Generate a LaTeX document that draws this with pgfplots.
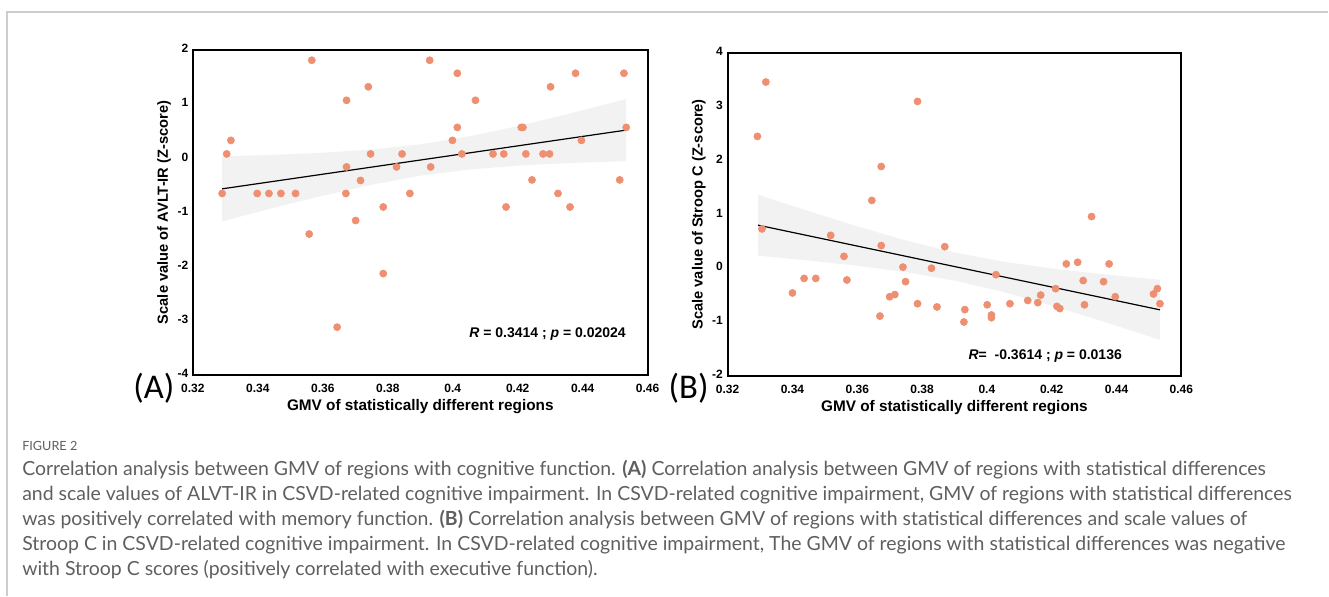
\documentclass[border=0pt]{standalone}
\usepackage{pgfplots}
\pgfplotsset{compat=1.18}
\usepackage{fontspec}
\setmainfont{Liberation Sans}
\newfontfamily\capfont{Lato}
\newfontfamily\panelfont{Carlito}
\definecolor{dotc}{RGB}{239,143,113}
\definecolor{bandc}{RGB}{242,242,242}
\definecolor{capc}{RGB}{95,95,95}
\definecolor{framec}{RGB}{205,205,205}

\pgfplotsset{
  gmvstyle/.style={
    scale only axis,
    xmin=0.32, xmax=0.46,
    xtick={0.32,0.34,0.36,0.38,0.4,0.42,0.44,0.46},
    major tick length=0pt,
    axis line style={line width=1.5pt, black},
    tick label style={font=\fontsize{9}{10}\selectfont\bfseries},
    xticklabel style={yshift=-3.5pt},
    yticklabel style={yshift=1pt},
    /pgf/number format/assume math mode=true,
    xlabel={GMV of statistically different regions},
    xlabel style={font=\fontsize{11.5}{13}\selectfont\bfseries, yshift=2pt},
    ylabel style={font=\fontsize{11}{13}\selectfont\bfseries, yshift=-2pt},
    clip=false,
  },
  dots/.style={only marks, mark=*, mark size=2.7pt, dotc,
               mark options={fill=dotc, draw=dotc}},
}

\begin{document}
\begin{tikzpicture}
% page frame and bounding box
\begin{scope}[x=0.75pt,y=-0.75pt]
  \path (0,0) rectangle (1329,596);
  \draw[framec, line width=1.1pt] (7,596) -- (7,12) -- (1329,12);
\end{scope}

%% Panel A
\begin{axis}[gmvstyle,
  at={(144.75pt,-281.25pt)}, anchor=south west,
  width=341.25pt, height=243.75pt,
  ymin=-4, ymax=2, ytick={-4,-3,-2,-1,0,1,2},
  ylabel={Scale value of AVLT-IR (Z-score)},
]
  \addplot[fill=bandc, draw=none] coordinates {
    (0.329,0.035) (0.345,0.064) (0.36,0.102) (0.375,0.161) (0.39,0.257)
    (0.405,0.404) (0.42,0.594) (0.435,0.810) (0.4534,1.094)
    (0.4534,-0.054) (0.435,-0.090) (0.42,-0.136) (0.405,-0.208) (0.39,-0.323)
    (0.375,-0.489) (0.36,-0.692) (0.345,-0.914) (0.329,-1.165)
  };
  \addplot[black, line width=0.9pt] coordinates {(0.329,-0.565) (0.4534,0.520)};
  \addplot[dots] coordinates {
    (0.3290,-0.65) (0.3304,0.08) (0.3317,0.33) (0.3398,-0.65) (0.3434,-0.65)
    (0.3471,-0.65) (0.3516,-0.65) (0.3566,1.81) (0.3558,-1.40) (0.3673,1.07)
    (0.3673,-0.16) (0.3671,-0.65) (0.3701,-1.15) (0.3716,-0.41) (0.3740,1.32)
    (0.3747,0.08) (0.3786,-0.90) (0.3786,-2.13) (0.3644,-3.12) (0.3827,-0.16)
    (0.3844,0.08) (0.3868,-0.65) (0.3929,1.81) (0.3932,-0.16) (0.3999,0.33)
    (0.4014,1.57) (0.4014,0.57) (0.4028,0.08) (0.4070,1.07) (0.4124,0.08)
    (0.4157,0.08) (0.4164,-0.90) (0.4211,0.57) (0.4216,0.57) (0.4225,0.08)
    (0.4244,-0.40) (0.4278,0.08) (0.4298,0.08) (0.4301,1.32) (0.4324,-0.65)
    (0.4361,-0.90) (0.4378,1.57) (0.4396,0.33) (0.4514,-0.40) (0.4527,1.57)
    (0.4534,0.57)
  };
  \node[font=\fontsize{10.5}{12}\selectfont\bfseries] at (axis cs:0.4292,-3.24)
    {\textit{R} = 0.3414 ; \textit{p} = 0.02024};
\end{axis}

%% Panel B
\begin{axis}[gmvstyle,
  at={(546pt,-282pt)}, anchor=south west,
  width=340.5pt, height=242.25pt,
  ymin=-2, ymax=4, ytick={-2,-1,0,1,2,3,4},
  ylabel={Scale value of Stroop C (Z-score)},
]
  \addplot[fill=bandc, draw=none] coordinates {
    (0.3294,1.367) (0.345,1.061) (0.36,0.778) (0.375,0.515) (0.39,0.292)
    (0.405,0.122) (0.42,-0.005) (0.435,-0.107) (0.4534,-0.216)
    (0.4534,-1.332) (0.435,-0.973) (0.42,-0.695) (0.405,-0.440) (0.39,-0.230)
    (0.375,-0.073) (0.36,0.046) (0.345,0.143) (0.3294,0.233)
  };
  \addplot[black, line width=0.9pt] coordinates {(0.3294,0.80) (0.4534,-0.774)};
  \addplot[dots] coordinates {
    (0.3318,3.46) (0.3292,2.45) (0.3786,3.10) (0.3674,1.89) (0.3645,1.26)
    (0.4323,0.96) (0.3306,0.73) (0.3518,0.61) (0.3674,0.42) (0.3559,0.22)
    (0.3400,-0.46) (0.3436,-0.19) (0.3472,-0.19) (0.3568,-0.22) (0.3741,0.02)
    (0.3749,-0.25) (0.3829,0.00) (0.3700,-0.53) (0.3716,-0.49) (0.3786,-0.66)
    (0.3670,-0.89) (0.3846,-0.72) (0.3870,0.40) (0.3932,-0.77) (0.3929,-1.00)
    (0.4001,-0.68) (0.4014,-0.87) (0.4014,-0.92) (0.4028,-0.12) (0.4071,-0.66)
    (0.4126,-0.60) (0.4157,-0.64) (0.4166,-0.50) (0.4212,-0.38) (0.4216,-0.71)
    (0.4225,-0.75) (0.4245,0.08) (0.4280,0.11) (0.4297,-0.23) (0.4301,-0.68)
    (0.4360,-0.25) (0.4377,0.08) (0.4396,-0.53) (0.4514,-0.48) (0.4526,-0.38)
    (0.4534,-0.66)
  };
  \node[font=\fontsize{10.5}{12}\selectfont\bfseries] at (axis cs:0.418,-1.63)
    {\textit{R}=\ \ -0.3614 ; \textit{p} = 0.0136};
\end{axis}

\begin{scope}[x=0.75pt,y=-0.75pt]
  \node[font=\panelfont\fontsize{26}{28}\selectfont] at (154,388) {(A)};
  \node[font=\panelfont\fontsize{26}{28}\selectfont] at (689,388) {(B)};
  \node[anchor=base west, inner sep=0pt, text=capc,
        font=\capfont\fontsize{9.5}{11}\selectfont] at (22,451) {FIGURE 2};
  \begin{scope}[every node/.style={anchor=base west, inner sep=0pt, text=capc,
        font=\capfont\fontsize{14.6}{16}\selectfont}]
    \node at (22,476) {Correlation analysis between GMV of regions with cognitive function. \textbf{(A)} Correlation analysis between GMV of regions with statistical differences};
    \node at (22,501) {and scale values of ALVT-IR in CSVD-related cognitive impairment. In CSVD-related cognitive impairment, GMV of regions with statistical differences};
    \node at (22,526) {was positively correlated with memory function. \textbf{(B)} Correlation analysis between GMV of regions with statistical differences and scale values of};
    \node at (22,551) {Stroop C in CSVD-related cognitive impairment. In CSVD-related cognitive impairment, The GMV of regions with statistical differences was negative};
    \node at (22,576) {with Stroop C scores (positively correlated with executive function).};
  \end{scope}
\end{scope}
\end{tikzpicture}
\end{document}
